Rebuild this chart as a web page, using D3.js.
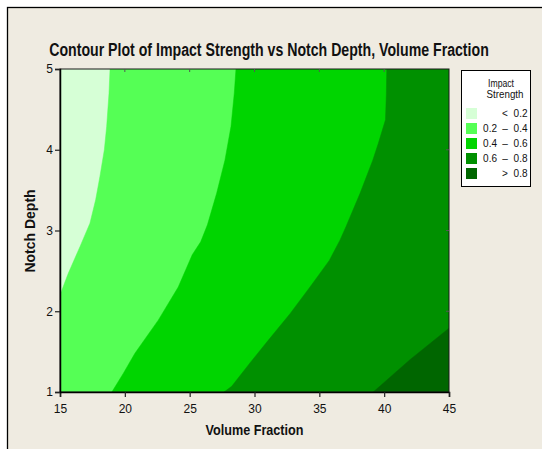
<!DOCTYPE html>
<html><head><meta charset="utf-8">
<script src="https://cdn.jsdelivr.net/npm/d3@7"></script>
<style>
html,body{margin:0;padding:0;background:#fff;}
svg{display:block;font-family:"Liberation Sans",Arial,sans-serif;}
</style></head>
<body>
<svg id="chart" width="542" height="449"></svg>
<script>
// ---- data ----
const xTicks = [15, 20, 25, 30, 35, 40, 45];
const yTicks = [1, 2, 3, 4, 5];
const thresholds = [0.2, 0.4, 0.6, 0.8];
const legendLabels = [["", "<", "0.2"], ["0.2", "–", "0.4"], ["0.4", "–", "0.6"], ["0.6", "–", "0.8"], ["", ">", "0.8"]];
const colors = ["#D6FFD6", "#55FF55", "#00D500", "#009000", "#006600"];
// contour boundaries: [Volume Fraction, Notch Depth]
const contour02 = [[18.86,5],[18.78,4.70],[18.60,4.29],[18.42,4.0],[18.08,3.67],[17.75,3.38],[17.31,3.09],[16.54,2.80],[15.64,2.47],[15,2.20]];
const contour04 = [[28.57,5],[28.44,4.70],[28.19,4.29],[27.72,3.87],[27.08,3.46],[26.37,3.07],[25.85,2.86],[25.2,2.70],[24.12,2.30],[22.58,1.89],[20.78,1.48],[19.88,1.23],[19.0,1]];
const contour06 = [[40.20,5],[40.17,4.70],[40.10,4.37],[39.55,4.08],[39.12,3.87],[38.14,3.46],[37.06,3.05],[36.59,2.88],[35.77,2.63],[34.28,2.30],[32.74,1.97],[31.06,1.64],[29.65,1.36],[28.24,1.07],[27.65,1]];
const contour08 = [[45,1.79],[41.99,1.40],[39.16,1]];
const contours = [contour02, contour04, contour06, contour08];

const svg = d3.select("#chart");
// outer frame
svg.append("rect").attr("x", 7.5).attr("y", 7.5).attr("width", 560).attr("height", 460)
  .attr("fill", "#EFEBE1").attr("stroke", "#000").attr("stroke-width", 1.3);

const x = d3.scaleLinear().domain([15, 45]).range([60, 449]);
const y = d3.scaleLinear().domain([1, 5]).range([392, 69]);

svg.append("defs").append("clipPath").attr("id", "clip")
  .append("rect").attr("x", x(15)).attr("y", y(5)).attr("width", x(45) - x(15)).attr("height", y(1) - y(5));

const plot = svg.append("g").attr("clip-path", "url(#clip)");
plot.append("rect").attr("x", x(15)).attr("y", y(5)).attr("width", x(45) - x(15)).attr("height", y(1) - y(5))
  .attr("fill", colors[0]);

const eps = 1e-6;
function perim(p) {
  if (Math.abs(p[1] - 5) < eps) return (p[0] - 15) / 30;
  if (Math.abs(p[0] - 45) < eps) return 1 + (5 - p[1]) / 4;
  if (Math.abs(p[1] - 1) < eps) return 2 + (45 - p[0]) / 30;
  return 3 + (p[1] - 1) / 4;
}
const corners = {1: [45, 5], 2: [45, 1], 3: [15, 1], 4: [15, 5]};
const line = d3.line().x(d => x(d[0])).y(d => y(d[1]));

contours.forEach((c, i) => {
  const tS = perim(c[0]), tE = perim(c[c.length - 1]);
  const pts = c.slice();
  for (let k = Math.ceil(tE) - 1; k >= Math.floor(tS) + 1; k--) pts.push(corners[k]);
  plot.append("path").attr("d", line(pts) + "Z").attr("fill", colors[i + 1])
    .attr("stroke", colors[i + 1]).attr("stroke-width", 0.5);
});

// frame of the plot
svg.append("rect").attr("x", x(15)).attr("y", y(5)).attr("width", x(45) - x(15)).attr("height", y(1) - y(5))
  .attr("fill", "none").attr("stroke", "#1a1a1a").attr("stroke-width", 1);

// axes
const xAxis = d3.axisBottom(x).tickValues(xTicks).tickFormat(d3.format("d")).tickSize(5).tickPadding(7);
const gx = svg.append("g").attr("transform", `translate(0,${y(1)})`).call(xAxis);
gx.select(".domain").attr("stroke", "#000").attr("stroke-width", 1.5);
gx.selectAll(".tick line").attr("stroke", "#222").attr("stroke-width", 1.2);
gx.selectAll("text").attr("font-size", 12).attr("fill", "#111").attr("font-family", "Liberation Sans, Arial");

const yAxis = d3.axisLeft(y).tickValues(yTicks).tickFormat(d3.format("d")).tickSize(5).tickPadding(2);
const gy = svg.append("g").attr("transform", `translate(${x(15)},0)`).call(yAxis);
gy.select(".domain").attr("stroke", "#000").attr("stroke-width", 1.5);
gy.selectAll(".tick line").attr("stroke", "#222").attr("stroke-width", 1.2);
gy.selectAll("text").attr("font-size", 12).attr("fill", "#111").attr("font-family", "Liberation Sans, Arial");

// mirrored inner ticks on top and right
svg.append("g").selectAll("line").data(xTicks.slice(1, -1)).join("line")
  .attr("x1", d => x(d)).attr("x2", d => x(d)).attr("y1", y(5)).attr("y2", y(5) + 3)
  .attr("stroke", "#555").attr("stroke-width", 1);
svg.append("g").selectAll("line").data(yTicks.slice(1, -1)).join("line")
  .attr("x1", x(45)).attr("x2", x(45) - 3).attr("y1", d => y(d)).attr("y2", d => y(d))
  .attr("stroke", "#555").attr("stroke-width", 1);

// horizontally condensed text helper (fits a target width)
function condensed(parent, cx, cy, rot, size, width, str, bold) {
  const g = parent.append("g").attr("transform", `translate(${cx},${cy}) rotate(${rot})`);
  const t = g.append("text").attr("text-anchor", "middle").attr("font-size", size)
    .attr("font-weight", bold ? "bold" : "normal").attr("fill", "#111").text(str);
  const w = t.node().getComputedTextLength();
  t.attr("transform", `scale(${Math.min(1, width / w)},1)`);
  return t;
}

// titles
condensed(svg, 269, 56, 0, 18.5, 440, "Contour Plot of Impact Strength vs Notch Depth, Volume Fraction", true);
condensed(svg, 254.5, 435, 0, 14, 98, "Volume Fraction", true);
condensed(svg, 35, 231, -90, 14, 92, "Notch Depth", true);

// legend
const lg = svg.append("g");
lg.append("rect").attr("x", 461.5).attr("y", 70.5).attr("width", 69).attr("height", 116)
  .attr("fill", "#fff").attr("stroke", "#000").attr("stroke-width", 1);
condensed(lg, 501, 87, 0, 10.5, 26, "Impact", false);
condensed(lg, 505, 98, 0, 10.5, 37, "Strength", false);
const rows = lg.selectAll("g.row").data(legendLabels).join("g").attr("class", "row")
  .attr("transform", (d, i) => `translate(0,${108 + i * 15})`);
rows.append("rect").attr("x", 466).attr("y", 0).attr("width", 11).attr("height", 11)
  .attr("fill", (d, i) => colors[i]);
rows.append("text").attr("x", 497).attr("y", 9).attr("text-anchor", "end").attr("font-size", 10).attr("fill", "#111").text(d => d[0]);
rows.append("text").attr("x", 505).attr("y", 9).attr("text-anchor", "middle").attr("font-size", 10).attr("fill", "#111").text(d => d[1]);
rows.append("text").attr("x", 527.5).attr("y", 9).attr("text-anchor", "end").attr("font-size", 10).attr("fill", "#111").text(d => d[2]);
</script>
</body></html>
